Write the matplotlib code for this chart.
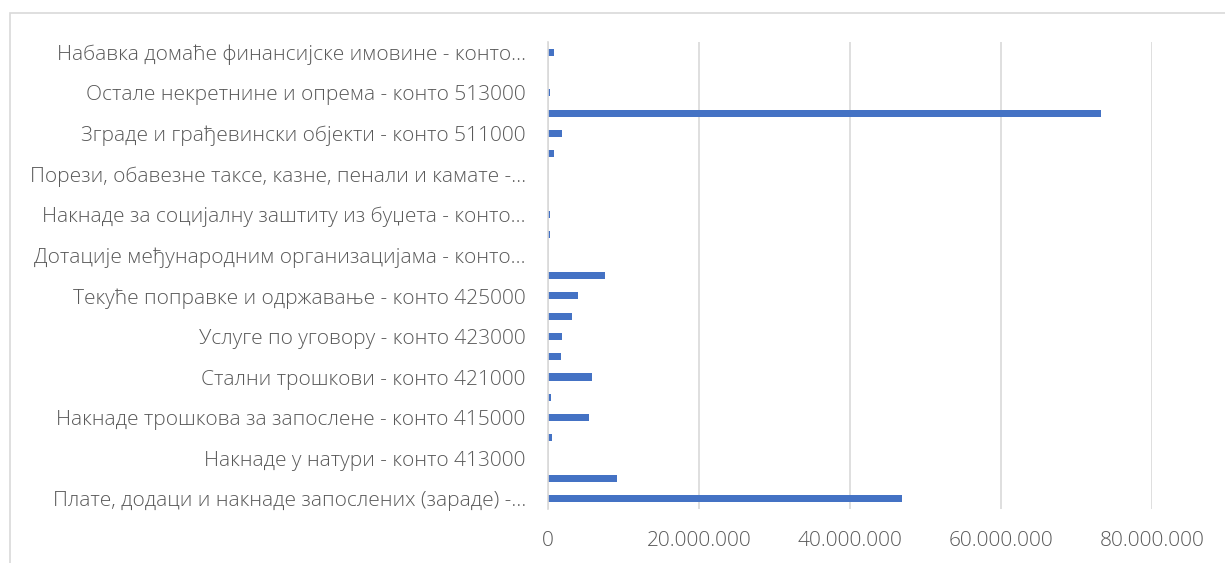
import matplotlib.pyplot as plt
from matplotlib.patches import Rectangle
from matplotlib.ticker import FuncFormatter

# categories bottom -> top (konto order); only every second label is shown in the chart
categories = [
    "Плате, додаци и накнаде запослених (зараде) -…",
    "Социјални доприноси на терет послодавца - конто…",
    "Накнаде у натури - конто 413000",
    "Социјална давања запосленима - конто 414000",
    "Накнаде трошкова за запослене - конто 415000",
    "Награде запосленима и остали посебни расходи -…",
    "Стални трошкови - конто 421000",
    "Трошкови путовања - конто 422000",
    "Услуге по уговору - конто 423000",
    "Специјализоване услуге - конто 424000",
    "Текуће поправке и одржавање - конто 425000",
    "Материјал - конто 426000",
    "Дотације међународним организацијама - конто…",
    "Трансфери осталим нивоима власти - конто 463000",
    "Накнаде за социјалну заштиту из буџета - конто…",
    "Дотације невладиним организацијама - конто 481000",
    "Порези, обавезне таксе, казне, пенали и камате -…",
    "Новчане казне и пенали по решењу судова - конто…",
    "Зграде и грађевински објекти - конто 511000",
    "Машине и опрема - конто 512000",
    "Остале некретнине и опрема - конто 513000",
    "Нематеријална имовина - конто 515000",
    "Набавка домаће финансијске имовине - конто…",
]
values = [
    46900000, 9200000, 30000, 500000, 5400000, 350000,
    5800000, 1700000, 1800000, 3200000, 4000000, 7500000,
    0, 250000, 250000, 0, 0, 800000,
    1800000, 73300000, 300000, 50000, 800000,
]
xticks = [0, 20000000, 40000000, 60000000, 80000000]

fig = plt.figure(figsize=(12.25, 5.63), dpi=100)
ax = fig.add_axes([548 / 1225, 1 - 509 / 563, (1152 - 548) / 1225, (509 - 42) / 563])

ypos = list(range(len(categories)))
ax.barh(ypos, values, height=0.35, color="#4472C4")

ax.set_xlim(0, 80000000)
ax.set_ylim(-0.5, len(categories) - 0.5)
ax.set_xticks(xticks)
ax.xaxis.set_major_formatter(FuncFormatter(lambda v, p: f"{int(v):,}".replace(",", ".")))
ax.set_yticks(ypos)
ax.set_yticklabels([c if i % 2 == 0 else "" for i, c in enumerate(categories)])

ax.grid(axis="x", color="#d9d9d9", linewidth=1.2)
ax.set_axisbelow(True)
for s in ["top", "right", "bottom"]:
    ax.spines[s].set_visible(False)
ax.spines["left"].set_color("#d9d9d9")
ax.spines["left"].set_linewidth(1.2)
ax.tick_params(axis="both", length=0, colors="#595959", labelsize=15)
ax.tick_params(axis="x", pad=16)
ax.tick_params(axis="y", pad=16)
for lab in ax.get_xticklabels() + ax.get_yticklabels():
    lab.set_fontfamily("Open Sans")
    lab.set_fontweight("light")

# outer chart border
fig.add_artist(Rectangle((10 / 1225, -0.1), 1.0, 1.1 - 13 / 563, transform=fig.transFigure,
                         fill=False, edgecolor="#d9d9d9", linewidth=1.2))

plt.savefig("out.png", dpi=100)
plt.close()
